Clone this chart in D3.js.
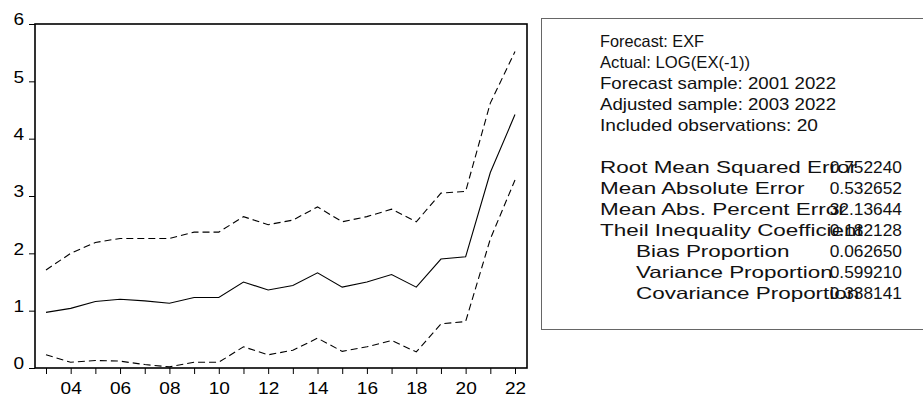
<!DOCTYPE html>
<html><head><meta charset="utf-8">
<script src="https://cdn.jsdelivr.net/npm/d3@7"></script>
<style>body{margin:0;background:#fff}svg{display:block}</style>
</head><body>
<svg id="c" width="923" height="397"></svg>
<script>
const years = [2003,2004,2005,2006,2007,2008,2009,2010,2011,2012,2013,2014,2015,2016,2017,2018,2019,2020,2021,2022];
const forecast = [0.97,1.04,1.16,1.20,1.17,1.13,1.23,1.23,1.50,1.36,1.44,1.66,1.41,1.50,1.63,1.41,1.90,1.94,3.41,4.42];
const upper = [1.71,2.00,2.19,2.26,2.26,2.26,2.37,2.37,2.64,2.50,2.58,2.81,2.55,2.64,2.77,2.55,3.05,3.08,4.62,5.52];
const lower = [0.23,0.10,0.13,0.12,0.06,0.02,0.10,0.10,0.37,0.23,0.31,0.52,0.29,0.37,0.48,0.28,0.77,0.81,2.25,3.28];
const yTicks = [0,1,2,3,4,5,6];
const xLabelYears = [2004,2006,2008,2010,2012,2014,2016,2018,2020,2022];
const statsHeader = ["Forecast: EXF","Actual: LOG(EX(-1))","Forecast sample: 2001 2022","Adjusted sample: 2003 2022","Included observations: 20"];
const statLabels = ["Root Mean Squared Error","Mean Absolute Error","Mean Abs. Percent Error","Theil Inequality Coefficient","Bias Proportion","Variance Proportion","Covariance Proportion"];
const statValues = ["0.752240","0.532652","32.13644","0.182128","0.062650","0.599210","0.338141"];
const statIndent = [0,0,0,0,1,1,1];

// layout constants (not data)
const headerWidths = [104,150,236,236,218];
const svg = d3.select("#c");
const L=35,T=24,R=527,B=368;
const x = d3.scaleLinear().domain([2003,2022]).range([46,515]);
const y = d3.scaleLinear().domain([0,6]).range([B,T]);
const font = "'Liberation Sans', Arial, sans-serif";

function stretch(sel, k){
  sel.each(function(){
    const w = this.getComputedTextLength();
    d3.select(this).attr("textLength", w*k).attr("lengthAdjust","spacingAndGlyphs");
  });
}

// frame
svg.append("rect").attr("x",L).attr("y",T).attr("width",R-L).attr("height",B-T)
  .attr("fill","none").attr("stroke","#000").attr("stroke-width",1.6);

// y axis
const ya = svg.append("g").attr("transform",`translate(${L},0)`)
  .call(d3.axisLeft(y).tickValues(yTicks).tickSize(6).tickPadding(5).tickFormat(d3.format("d")));
ya.select(".domain").remove();
ya.selectAll("line").attr("stroke","#000");
ya.selectAll("text").attr("font-family",font).attr("font-size",17).attr("fill","#000").attr("dy","0.05em");
stretch(ya.selectAll("text"),1.12);

// x axis
const xa = svg.append("g").attr("transform",`translate(0,${B})`)
  .call(d3.axisBottom(x).tickValues(years).tickSize(6).tickPadding(8)
    .tickFormat(d => xLabelYears.includes(d) ? String(d).slice(2) : ""));
xa.select(".domain").remove();
xa.selectAll("line").attr("stroke","#000");
xa.selectAll("text").attr("font-family",font).attr("font-size",17).attr("fill","#000");
stretch(xa.selectAll("text"),1.12);

const line = d3.line().x((d,i)=>x(years[i])).y(d=>y(d));
svg.append("path").datum(forecast).attr("d",line).attr("fill","none").attr("stroke","#000").attr("stroke-width",1.1);
svg.append("path").datum(upper).attr("d",line).attr("fill","none").attr("stroke","#000").attr("stroke-width",1.1).attr("stroke-dasharray","7,4");
svg.append("path").datum(lower).attr("d",line).attr("fill","none").attr("stroke","#000").attr("stroke-width",1.1).attr("stroke-dasharray","7,4");

// stats box
svg.append("rect").attr("x",541.5).attr("y",18.5).attr("width",400).attr("height",311)
  .attr("fill","#fff").attr("stroke","#666").attr("stroke-width",1);
const tg = svg.append("g").attr("font-family",font).attr("font-size",16.5).attr("fill","#111");
statsHeader.forEach((t,i)=>{
  tg.append("text").attr("x",600).attr("y",47+i*21).text(t)
    .attr("textLength",headerWidths[i]).attr("lengthAdjust","spacingAndGlyphs");
});
statLabels.forEach((t,i)=>{
  const lab = tg.append("text").attr("x",statIndent[i]?636:600).attr("y",173+i*21).text(t);
  stretch(lab,1.36);
  const v = tg.append("text").attr("y",173+i*21).text(statValues[i]);
  const w = v.node().getComputedTextLength()*1.05;
  v.attr("x",902-w).attr("textLength",w).attr("lengthAdjust","spacingAndGlyphs");
});
</script>
</body></html>
